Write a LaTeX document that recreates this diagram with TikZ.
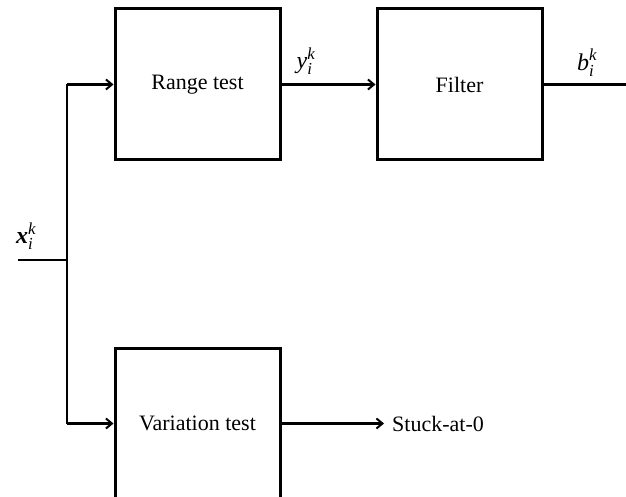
\documentclass[tikz,border=0pt]{standalone}
\usepackage{amsmath}
\usepackage{fontspec}
\setmainfont{Liberation Serif}
\usetikzlibrary{arrows.meta}
\begin{document}
\begin{tikzpicture}[x=1pt,y=-1pt,
  blockbox/.style={draw,line width=3pt,rectangle,minimum width=165pt,minimum height=151pt,inner sep=0pt,font=\fontsize{22}{24}\selectfont},
  wire/.style={line width=2.2pt},
  arr/.style={wire,-{Straight Barb[length=6pt,width=10pt,line width=2pt]}},
  lbl/.style={font=\fontsize{22}{24}\selectfont,inner sep=0pt},
  mlbl/.style={font=\fontsize{24}{26}\selectfont,inner sep=0pt}]
\useasboundingbox (0,0) rectangle (626,497);
\clip (0,0) rectangle (626,497);
\node[blockbox] (range) at (197.5,84.5) {Range test};
\node[blockbox] (filter) at (459.5,84.5) {Filter};
\node[blockbox] (var) at (197.5,423.5) {Variation test};
\coordinate (in) at (18,260);
\coordinate (jin) at (67,260);
\coordinate (j1) at (range.west -| jin);
\coordinate (j2) at (var.west -| jin);
\coordinate (out) at (filter.east -| 626,0);
\coordinate (vend) at (var.east -| 384,0);
\node[lbl,anchor=west] (stuck) at (var.east -| 392,0) {Stuck-at-0};
\draw[wire] (in) -- (jin);
\draw[wire] (j1) -- (j2);
\draw[arr] (j1) -- (range.west);
\draw[arr] (j2) -- (var.west);
\draw[arr] (range.east) -- (filter.west);
\draw[wire] (filter.east) -- (out);
\draw[arr] (var.east) -- (vend);
\node[mlbl] (xl) at (26,236) {$\textbf{\textit{x}}_{\textit{i}}^{\textit{k}}$};
\node[mlbl] (yl) at (306,61) {$\textit{y}_{\textit{i}}^{\textit{k}}$};
\node[mlbl] (bl) at (587,63) {$\textit{b}_{\textit{i}}^{\textit{k}}$};
\end{tikzpicture}
\end{document}
